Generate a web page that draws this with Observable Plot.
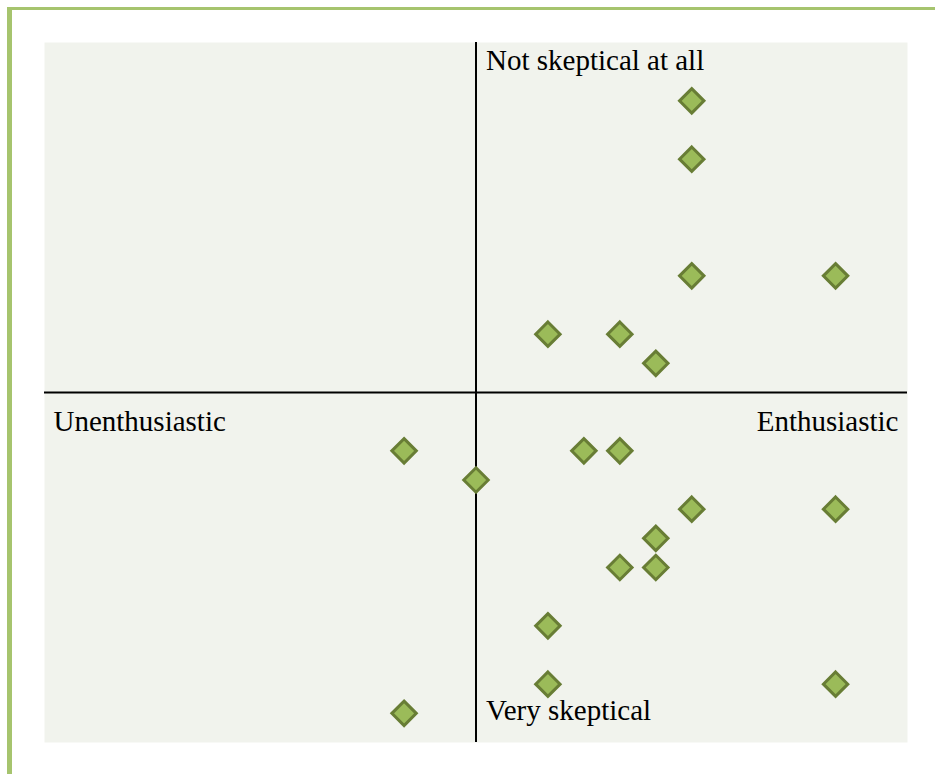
<!DOCTYPE html>
<html>
<head>
<meta charset="utf-8">
<script src="https://cdn.jsdelivr.net/npm/d3@7"></script>
<script src="https://cdn.jsdelivr.net/npm/@observablehq/plot@0.6"></script>
<style>
  html, body { margin: 0; padding: 0; background: #ffffff; }
  #wrap { position: relative; width: 935px; height: 774px; overflow: hidden; }
  #frame { position: absolute; left: 7px; top: 7px; right: -10px; bottom: -10px;
           border-top: 3px solid #a6c46e; border-left: 5px solid #a6c46e; box-sizing: border-box; pointer-events: none; }
  #chart { position: absolute; left: 0; top: 0; }
</style>
</head>
<body>
<div id="wrap"><div id="chart"></div><div id="frame"></div></div>
<script>
// Enthusiasm (x) vs. skepticism (y) positions
const enthusiasm = [6, 6, 6, 10, 2, 4, 5, -2, 3, 4, 0, 6, 10, 5, 4, 5, 2, 2, 10, -2];
const skepticism = [10, 8, 4, 4, 2, 2, 1, -2, -2, -2, -3, -4, -4, -5, -6, -6, -8, -10, -10, -11];
const axisDomain = [-12, 12];
const labelTop = "Not skeptical at all";
const labelBottom = "Very skeptical";
const labelLeft = "Unenthusiastic";
const labelRight = "Enthusiastic";

const points = enthusiasm.map((x, i) => ({x, y: skepticism[i]}));

const plot = Plot.plot({
  width: 935,
  height: 774,
  marginLeft: 44,
  marginRight: 28,
  marginTop: 42,
  marginBottom: 32,
  style: {fontFamily: "'Liberation Serif', 'Times New Roman', serif", background: "transparent"},
  x: {domain: axisDomain, axis: null},
  y: {domain: axisDomain, axis: null},
  marks: [
    Plot.frame({fill: "#f1f3ed", stroke: null}),
    Plot.ruleX([0], {stroke: "#000", strokeWidth: 2}),
    Plot.ruleY([0], {stroke: "#000", strokeWidth: 2}),
    Plot.text([labelTop], {x: 0, y: axisDomain[1], text: d => d, textAnchor: "start", lineAnchor: "bottom", dx: 10, dy: 27, fontSize: 29, fill: "#000"}),
    Plot.text([labelBottom], {x: 0, y: axisDomain[0], text: d => d, textAnchor: "start", lineAnchor: "bottom", dx: 10, dy: -23, fontSize: 29, fill: "#000"}),
    Plot.text([labelLeft], {x: axisDomain[0], y: 0, text: d => d, textAnchor: "start", lineAnchor: "bottom", dx: 9, dy: 38, fontSize: 29, fill: "#000"}),
    Plot.text([labelRight], {x: axisDomain[1], y: 0, text: d => d, textAnchor: "end", lineAnchor: "bottom", dx: -9, dy: 38, fontSize: 29, fill: "#000"}),
    Plot.dot(points, {x: "x", y: "y", symbol: "diamond2", r: 11, fill: "#9bbb59", stroke: "#687d35", strokeWidth: 3})
  ]
});
document.getElementById("chart").appendChild(plot);
</script>
</body>
</html>
